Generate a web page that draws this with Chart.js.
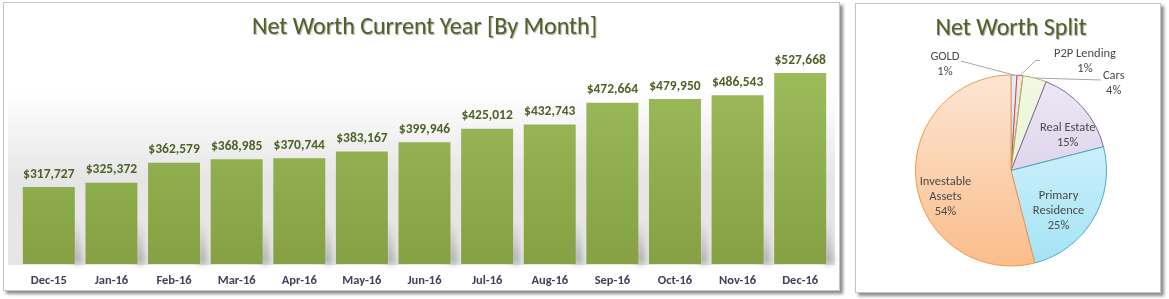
<!DOCTYPE html>
<html>
<head>
<meta charset="utf-8">
<script src="https://cdn.jsdelivr.net/npm/chart.js@4/dist/chart.umd.min.js"></script>
<style>
  html, body { margin: 0; padding: 0; background: #fff; }
  body { width: 1169px; height: 299px; position: relative; overflow: hidden; }
  .panel {
    position: absolute;
    background: #fff;
    border: 1px solid #c4c4c4;
    box-shadow: 3px 3px 3px rgba(0,0,0,0.45);
  }
  #left { left: 3px; top: 2px; width: 835px; height: 287px; }
  #right { left: 855px; top: 3px; width: 304px; height: 288px; }
  canvas { position: absolute; left: 0; top: 0; }
</style>
</head>
<body>
<div class="panel" id="left"><canvas id="barChart" width="835" height="287"></canvas></div>
<div class="panel" id="right"><canvas id="pieChart" width="304" height="288"></canvas></div>
<script>
// --- data ---
const months = ['Dec-15', 'Jan-16', 'Feb-16', 'Mar-16', 'Apr-16', 'May-16', 'Jun-16',
  'Jul-16', 'Aug-16', 'Sep-16', 'Oct-16', 'Nov-16', 'Dec-16'];
const netWorth = [317727, 325372, 362579, 368985, 370744, 383167, 399946,
  425012, 432743, 472664, 479950, 486543, 527668];

const splitLabels = ['GOLD', 'P2P Lending', 'Cars', 'Real Estate', 'Primary Residence', 'Investable Assets'];
const splitValues = [1, 1, 4, 15, 25, 54];

const FONT = 'Carlito, Calibri, Lato, sans-serif';
const titleGreen = '#4f6228';

const money = v => '$' + v.toLocaleString('en-US');

// === BAR CHART ===
const barBg = {
  id: 'barBg',
  beforeDraw(chart) {
    const { ctx, chartArea } = chart;
    const g = ctx.createLinearGradient(0, 88, 0, 175);
    g.addColorStop(0, 'rgba(230,230,230,0)');
    g.addColorStop(1, '#e6e6e6');
    ctx.save();
    ctx.shadowColor = 'transparent';
    ctx.fillStyle = g;
    ctx.fillRect(4, 88, chart.width - 8, chartArea.bottom - 88 + 1);
    ctx.restore();
  },
  beforeDatasetsDraw(chart) {
    // soft shadow at the foot of each bar
    const { ctx, chartArea } = chart;
    ctx.save();
    ctx.filter = 'blur(3px)';
    chart.getDatasetMeta(0).data.forEach(bar => {
      const x = bar.x + bar.width / 2;
      const g = ctx.createLinearGradient(0, chartArea.bottom - 45, 0, chartArea.bottom);
      g.addColorStop(0, 'rgba(0,0,0,0)');
      g.addColorStop(1, 'rgba(0,0,0,0.28)');
      ctx.fillStyle = g;
      ctx.beginPath();
      ctx.moveTo(x - 2, chartArea.bottom - 45);
      ctx.lineTo(x + 4, chartArea.bottom - 38);
      ctx.lineTo(x + 7, chartArea.bottom);
      ctx.lineTo(x - 2, chartArea.bottom);
      ctx.closePath();
      ctx.fill();
    });
    ctx.restore();
  },
  afterDatasetsDraw(chart) {
    const { ctx } = chart;
    ctx.save();
    ctx.font = 'bold 13.5px ' + FONT;
    ctx.fillStyle = titleGreen;
    ctx.textAlign = 'center';
    ctx.textBaseline = 'bottom';
    chart.getDatasetMeta(0).data.forEach((bar, i) => {
      ctx.fillText(money(netWorth[i]), bar.x, bar.y - 6);
    });
    ctx.restore();
  }
};

// sombra leve no título (os rótulos do eixo x ficam numa camada acima, sem sombra)
const titleShadow = {
  id: 'titleShadow',
  beforeDraw(chart) {
    const ctx = chart.ctx;
    ctx.save();
    ctx.shadowColor = 'rgba(0,0,0,0.35)';
    ctx.shadowOffsetX = 1;
    ctx.shadowOffsetY = 1;
    ctx.shadowBlur = 1;
  },
  beforeDatasetsDraw(chart) {
    chart.ctx.restore();
  }
};

new Chart(document.getElementById('barChart'), {
  type: 'bar',
  data: {
    labels: months,
    datasets: [{
      data: netWorth,
      backgroundColor: ctx => {
        const area = ctx.chart.chartArea;
        if (!area) return '#9bbb59';
        const g = ctx.chart.ctx.createLinearGradient(0, area.top, 0, area.bottom);
        g.addColorStop(0, '#9fbe5c');
        g.addColorStop(1, '#85a143');
        return g;
      },
      borderWidth: 0,
      barPercentage: 0.83,
      categoryPercentage: 1
    }]
  },
  options: {
    responsive: false,
    animation: false,
    layout: { padding: { left: 13.5, right: 7.5, top: 0, bottom: 0 } },
    plugins: {
      legend: { display: false },
      tooltip: { enabled: false },
      title: {
        display: true,
        text: 'Net Worth Current Year [By Month]',
        color: titleGreen,
        font: { family: FONT, size: 24, weight: 'normal' },
        padding: { top: 11, bottom: 7.2 }
      }
    },
    scales: {
      x: {
        grid: { display: false, drawTicks: false },
        border: { display: false },
        ticks: { z: 1, color: '#40405a', font: { family: FONT, size: 12.5, weight: 'bold' }, padding: 9 },
        afterFit(scale) { scale.height = 26; }
      },
      y: { display: false, min: 176000, max: 570000 }
    }
  },
  plugins: [titleShadow, barBg]
});

// === PIE CHART ===
const sliceFill = [
  ['#e4ecf6', '#c6d6ec'],
  ['#fbe4e4', '#f2c4c3'],
  ['#f2f8e4', '#e2efc6'],
  ['#eee9f5', '#cec1e1'],
  ['#e2f7fd', '#a3e3f5'],
  ['#fde6d4', '#fabd8a']
];
const sliceBorder = ['#7f9fcf', '#c0504d', '#9bbb59', '#8064a2', '#4bacc6', '#f79646'];

// where each label sits: inside (angle in degrees from top, radius fraction)
// or outside (offset from the slice edge, with a leader line)
const labelPlace = [
  { out: true, dx: -69, dy: -11, lx: -53, ly: -14 },
  { out: true, dx: 65, dy: -14, lx: 16, ly: -15, elbow: 20 },
  { out: true, dx: 79, dy: 5, lx: 66, ly: 2 },
  { angle: 58, r: 0.70 },
  { angle: 130, r: 0.65 },
  { angle: 248, r: 0.74 }
];
const labelLines = [
  ['GOLD', '1%'],
  ['P2P Lending', '1%'],
  ['Cars', '4%'],
  ['Real Estate', '15%'],
  ['Primary', 'Residence', '25%'],
  ['Investable', 'Assets', '54%']
];

const pieLabels = {
  id: 'pieLabels',
  afterDatasetsDraw(chart) {
    const { ctx } = chart;
    const arcs = chart.getDatasetMeta(0).data;
    ctx.save();
    ctx.font = '12.5px ' + FONT;
    ctx.fillStyle = '#4a4a4a';
    ctx.textAlign = 'center';
    ctx.textBaseline = 'middle';
    arcs.forEach((arc, i) => {
      const p = labelPlace[i];
      const lines = labelLines[i];
      const lh = 15;
      let cx, cy;
      if (p.out) {
        const mid = (arc.startAngle + arc.endAngle) / 2;
        const ex = arc.x + Math.cos(mid) * arc.outerRadius;
        const ey = arc.y + Math.sin(mid) * arc.outerRadius;
        cx = ex + p.dx;
        cy = ey + p.dy;
        ctx.save();
        ctx.strokeStyle = '#a6a6a6';
        ctx.lineWidth = 1;
        ctx.beginPath();
        ctx.moveTo(ex, ey);
        ctx.lineTo(ex + p.lx, ey + p.ly);
        if (p.elbow) ctx.lineTo(ex + p.lx + 4, ey + p.ly);
        ctx.stroke();
        ctx.restore();
      } else {
        const a = (p.angle - 90) * Math.PI / 180;
        cx = arc.x + Math.cos(a) * arc.outerRadius * p.r;
        cy = arc.y + Math.sin(a) * arc.outerRadius * p.r;
      }
      const top = cy - (lines.length - 1) * lh / 2;
      lines.forEach((t, k) => ctx.fillText(t, cx, top + k * lh));
    });
    ctx.restore();
  }
};

new Chart(document.getElementById('pieChart'), {
  type: 'pie',
  data: {
    labels: splitLabels,
    datasets: [{
      data: splitValues,
      backgroundColor: ctx => {
        const area = ctx.chart.chartArea;
        const c = sliceFill[ctx.dataIndex];
        if (!area) return c[1];
        const g = ctx.chart.ctx.createLinearGradient(0, area.top, 0, area.bottom);
        g.addColorStop(0, c[0]);
        g.addColorStop(1, c[1]);
        return g;
      },
      borderColor: sliceBorder,
      borderWidth: 1
    }]
  },
  options: {
    responsive: false,
    animation: false,
    layout: { padding: { left: 59, right: 53, top: 0, bottom: 25 } },
    plugins: {
      legend: { display: false },
      tooltip: { enabled: false },
      title: {
        display: true,
        text: 'Net Worth Split',
        color: titleGreen,
        font: { family: FONT, size: 24, weight: 'normal' },
        padding: { top: 11, bottom: 30.2 }
      }
    }
  },
  plugins: [titleShadow, pieLabels]
});
</script>
</body>
</html>
